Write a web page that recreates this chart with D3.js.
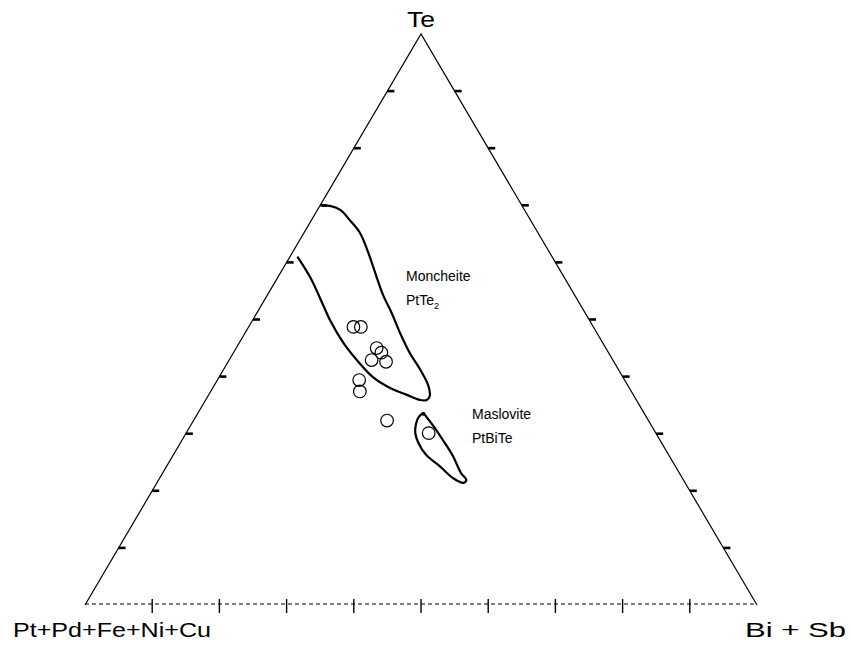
<!DOCTYPE html>
<html>
<head>
<meta charset="utf-8">
<script src="https://cdn.jsdelivr.net/npm/d3@7"></script>
<style>
  body { margin: 0; background: #fff; }
  svg text { font-family: Arial, "Liberation Sans", sans-serif; fill: #000; }
</style>
</head>
<body>
<div id="root"></div>
<script>
// ternary data: te = Te fraction, bi = Bi+Sb fraction (rest is Pt+Pd+Fe+Ni+Cu)
var sampleTe = [0.487, 0.487, 0.450, 0.442, 0.426, 0.429, 0.394, 0.374, 0.323, 0.301];
var sampleBi = [0.156, 0.167, 0.209, 0.220, 0.235, 0.212, 0.211, 0.222, 0.288, 0.361];

// Moncheite field (open at the Te - PGE side)
var moncheiteTe = [0.610, 0.573, 0.525, 0.499, 0.459, 0.429, 0.399, 0.380, 0.368, 0.359, 0.359, 0.366,
                   0.384, 0.412, 0.441, 0.476, 0.511, 0.543, 0.583, 0.622, 0.652, 0.674, 0.692, 0.699, 0.699];
var moncheiteBi = [0.011, 0.049, 0.092, 0.115, 0.155, 0.190, 0.229, 0.264, 0.295, 0.319, 0.329, 0.330,
                   0.319, 0.293, 0.263, 0.231, 0.201, 0.172, 0.140, 0.109, 0.083, 0.057, 0.034, 0.015, 0.003];

// Maslovite field (closed)
var maslovTe = [0.335, 0.329, 0.317, 0.301, 0.284, 0.263, 0.242, 0.222, 0.214, 0.219,
                0.231, 0.261, 0.289, 0.315, 0.328];
var maslovBi = [0.336, 0.332, 0.334, 0.341, 0.354, 0.376, 0.408, 0.437, 0.456, 0.458,
                0.444, 0.417, 0.388, 0.360, 0.345];

var tickValues = [0.1, 0.2, 0.3, 0.4, 0.5, 0.6, 0.7, 0.8, 0.9];

var width = 851;
var height = 646;

var x = d3.scaleLinear().domain([0, 1]).range([85, 757]);
var y = d3.scaleLinear().domain([0, 1]).range([605, 34]);

function px(te, bi) { return x(bi + te / 2); }
function py(te) { return y(te); }

var svg = d3.select('#root')
  .append('svg')
    .attr('width', width)
    .attr('height', height);

// triangle sides
svg.append('path')
  .attr('d', 'M' + px(0, 0) + ',' + py(0) + 'L' + px(1, 0) + ',' + py(1) + 'L' + px(0, 1) + ',' + py(0))
  .attr('fill', 'none')
  .attr('stroke', '#000')
  .attr('stroke-width', 1.2);

// base line gets a dashed overlay like the original
svg.append('line')
  .attr('x1', px(0, 0)).attr('x2', px(0, 1))
  .attr('y1', py(0) - 1).attr('y2', py(0) - 1)
  .attr('stroke', '#000')
  .attr('stroke-width', 1.2)
  .attr('stroke-dasharray', '4,3');

// base ticks
svg.selectAll('.btick')
  .data(tickValues)
  .enter().append('line')
    .attr('class', 'btick')
    .attr('x1', function(d) { return px(0, d); })
    .attr('x2', function(d) { return px(0, d); })
    .attr('y1', py(0) - 6)
    .attr('y2', py(0) + 8)
    .attr('stroke', '#000')
    .attr('stroke-width', 1.4);

// side ticks: short thick dashes pointing right
var sideTicks = tickValues.map(function(d) { return { te: d, bi: 0 }; })
  .concat(tickValues.map(function(d) { return { te: d, bi: 1 - d }; }));

svg.selectAll('.stick')
  .data(sideTicks)
  .enter().append('line')
    .attr('class', 'stick')
    .attr('x1', function(d) { return px(d.te, d.bi); })
    .attr('x2', function(d) { return px(d.te, d.bi) + 7; })
    .attr('y1', function(d) { return py(d.te); })
    .attr('y2', function(d) { return py(d.te); })
    .attr('stroke', '#000')
    .attr('stroke-width', 2.6);

// fields
var line = d3.line()
  .x(function(d) { return px(d[0], d[1]); })
  .y(function(d) { return py(d[0]); });

svg.append('path')
  .datum(d3.zip(moncheiteTe, moncheiteBi))
  .attr('d', line.curve(d3.curveCatmullRom.alpha(0.5)))
  .attr('fill', 'none')
  .attr('stroke', '#000')
  .attr('stroke-width', 2.2);

svg.append('path')
  .datum(d3.zip(maslovTe, maslovBi))
  .attr('d', line.curve(d3.curveCatmullRomClosed.alpha(0.5)))
  .attr('fill', 'none')
  .attr('stroke', '#000')
  .attr('stroke-width', 2.2);

svg.append('circle')
  .attr('cx', px(maslovTe[0], maslovBi[0]))
  .attr('cy', py(maslovTe[0]))
  .attr('r', 2)
  .attr('fill', '#000');

// analyses
svg.selectAll('.pt')
  .data(d3.zip(sampleTe, sampleBi))
  .enter().append('circle')
    .attr('class', 'pt')
    .attr('cx', function(d) { return px(d[0], d[1]); })
    .attr('cy', function(d) { return py(d[0]); })
    .attr('r', 6.3)
    .attr('fill', 'none')
    .attr('stroke', '#000')
    .attr('stroke-width', 1.2);

// corner labels
svg.append('text')
  .attr('x', 421).attr('y', 27)
  .attr('text-anchor', 'middle')
  .attr('font-size', 22)
  .attr('textLength', 28)
  .attr('lengthAdjust', 'spacingAndGlyphs')
  .text('Te');

svg.append('text')
  .attr('x', 13).attr('y', 637)
  .attr('font-size', 21)
  .attr('textLength', 198)
  .attr('lengthAdjust', 'spacingAndGlyphs')
  .text('Pt+Pd+Fe+Ni+Cu');

svg.append('text')
  .attr('x', 745).attr('y', 637)
  .attr('font-size', 21)
  .attr('textLength', 101)
  .attr('lengthAdjust', 'spacingAndGlyphs')
  .text('Bi + Sb');

// field labels
svg.append('text')
  .attr('x', 406).attr('y', 281)
  .attr('font-size', 14)
  .text('Moncheite');

var pt = svg.append('text')
  .attr('x', 406).attr('y', 305)
  .attr('font-size', 14)
  .text('PtTe');
pt.append('tspan')
  .attr('font-size', 9)
  .attr('dy', 4)
  .text('2');

svg.append('text')
  .attr('x', 472).attr('y', 419)
  .attr('font-size', 14)
  .text('Maslovite');

svg.append('text')
  .attr('x', 472).attr('y', 443)
  .attr('font-size', 14)
  .text('PtBiTe');
</script>
</body>
</html>
